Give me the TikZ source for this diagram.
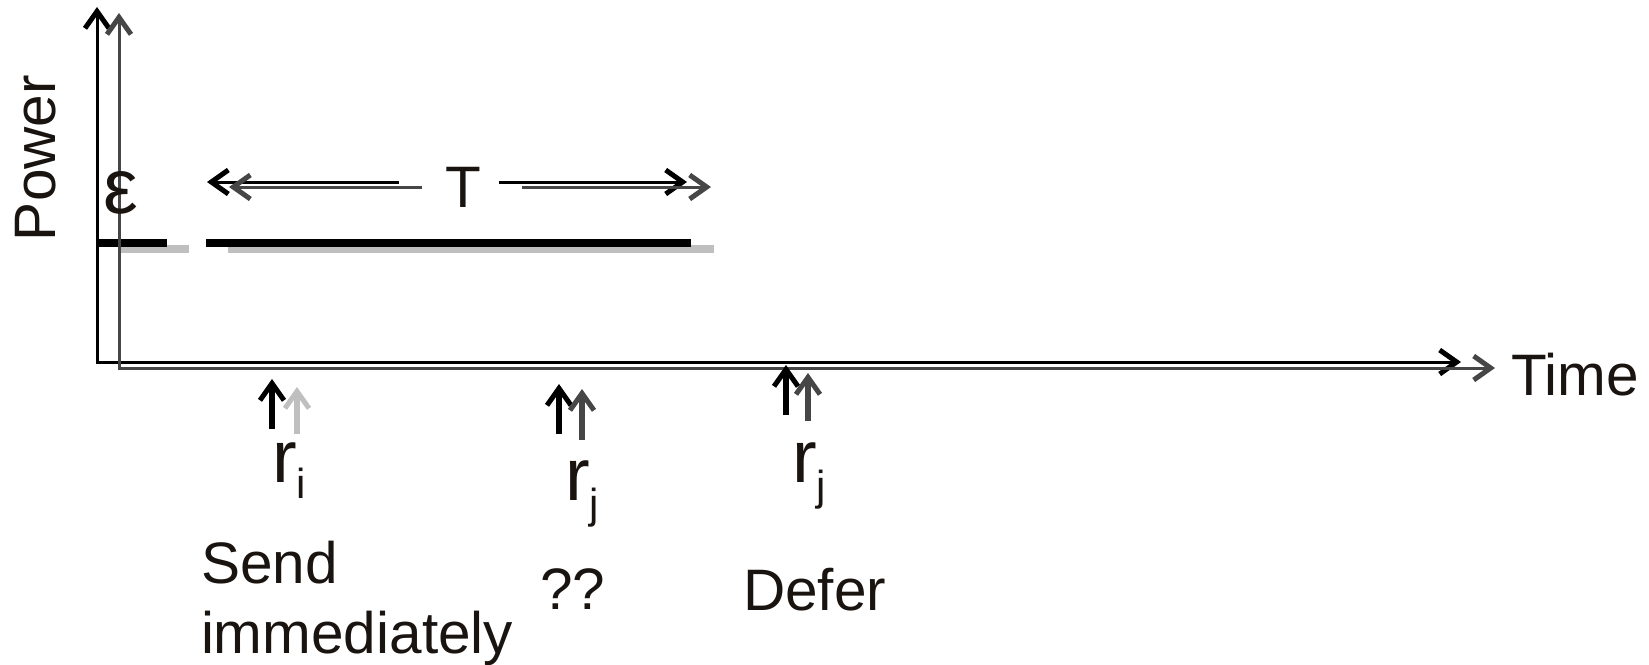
\documentclass[tikz,border=0pt]{standalone}
\usepackage{fontspec}
\setmainfont{Liberation Sans}
\usetikzlibrary{arrows.meta}
\definecolor{dg}{RGB}{70,70,70}
\definecolor{lg}{RGB}{191,191,191}
\definecolor{txt}{RGB}{26,20,17}
\begin{document}
\begin{tikzpicture}[x=1pt,y=-1pt,
  >={Straight Barb[length=17pt,width=24pt,line width=5pt 0 1]},
  axis/.style={line width=3pt},
  shaft/.style={line width=3pt,->},
  evt/.style={line width=6pt,->},
  bar/.style={line width=8pt},
  lbl/.style={inner sep=0pt,outer sep=0pt,text=txt,font=\fontsize{58.5}{70}\selectfont},
  rlbl/.style={inner sep=0pt,outer sep=0pt,text=txt,font=\fontsize{74}{74}\selectfont,anchor=base west},
]
\useasboundingbox (0,0) rectangle (1649,664);
% coordinates
\coordinate (by) at (97,7);   \coordinate (bo) at (97,362);  \coordinate (bx) at (1461,362);
\coordinate (gy) at (119,13); \coordinate (go) at (119,368); \coordinate (gx) at (1495,368);
% power bars
\draw[bar,lg] (119,249) -- (189,249);
\draw[bar,lg] (228,249) -- (714,249);
\draw[bar,black] (97,243) -- (167,243);
\draw[bar,black] (206,243) -- (691,243);
% axes
\draw[axis,black,<->] (by) -- (bo) -- (bx);
\draw[axis,dg,<->] (gy) -- (go) -- (gx);
% labels
\node[lbl,rotate=90,anchor=base west] (power) at (55,241) {Power};
\node[lbl,anchor=base west] (time) at (1511,395) {Time};
\node[lbl,anchor=base] (T) at (463,207) {T};
\node[inner sep=0pt,text=txt,font=\fontsize{78}{78}\selectfont,anchor=base] (eps) at (121,213) {ε};
% T arrows
\coordinate (tl1) at (399,182); \coordinate (tl1e) at (207,182);
\coordinate (tl2) at (422,187); \coordinate (tl2e) at (229,187);
\coordinate (tr1) at (499,182); \coordinate (tr1e) at (687,182);
\coordinate (tr2) at (522,187); \coordinate (tr2e) at (711,187);
\draw[shaft,black] (tl1) -- (tl1e);
\draw[shaft,dg] (tl2) -- (tl2e);
\draw[shaft,black] (tr1) -- (tr1e);
\draw[shaft,dg] (tr2) -- (tr2e);
% event arrows
\coordinate (e1a) at (272,429); \coordinate (e1b) at (272,379);
\coordinate (e1c) at (297,434); \coordinate (e1d) at (297,387);
\coordinate (e2a) at (559,434); \coordinate (e2b) at (559,384);
\coordinate (e2c) at (582,440); \coordinate (e2d) at (582,389);
\coordinate (e3a) at (786,415); \coordinate (e3b) at (786,365);
\coordinate (e3c) at (808,421); \coordinate (e3d) at (808,373);
\draw[evt,black] (e1a) -- (e1b);
\draw[evt,lg] (e1c) -- (e1d);
\draw[evt,black] (e2a) -- (e2b);
\draw[evt,dg] (e2c) -- (e2d);
\draw[evt,black] (e3a) -- (e3b);
\draw[evt,dg] (e3c) -- (e3d);
% r labels
\node[rlbl] (ri) at (272,482) {r\raisebox{-16pt}{\fontsize{42}{42}\selectfont i}};
\node[rlbl] (rj1) at (565,500) {r\raisebox{-18pt}{\fontsize{42}{42}\selectfont j}};
\node[rlbl] (rj2) at (792,482) {r\raisebox{-18pt}{\fontsize{42}{42}\selectfont j}};
% decisions
\node[lbl,anchor=base west,align=left] (send) at (201,653) {Send\\immediately};
\node[lbl,anchor=base west] (qq) at (540,609) {??};
\node[lbl,anchor=base west] (defer) at (743,610) {Defer};
\end{tikzpicture}
\end{document}
